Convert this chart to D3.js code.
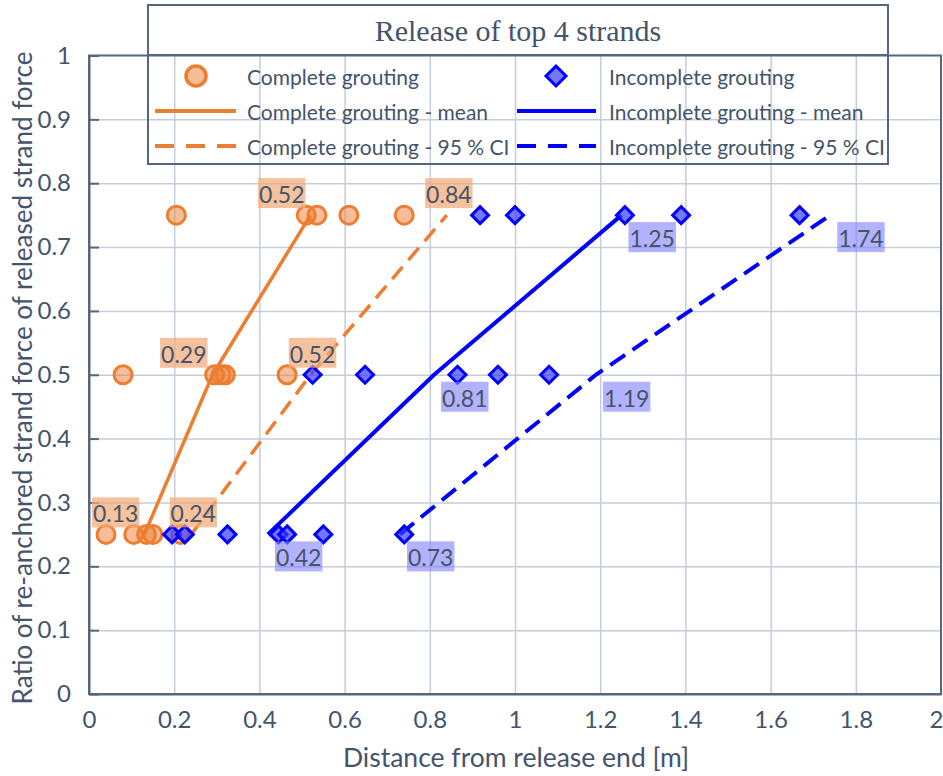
<!DOCTYPE html>
<html>
<head>
<meta charset="utf-8">
<script src="https://cdn.jsdelivr.net/npm/d3@7"></script>
<style>
  html, body { margin: 0; padding: 0; background: #ffffff; }
  svg { display: block; }
</style>
</head>
<body>
<svg id="chart" width="943" height="776"></svg>
<script>
// Axis ticks
const xTickValues = [0, 0.2, 0.4, 0.6, 0.8, 1, 1.2, 1.4, 1.6, 1.8, 2];
const xTickLabels = ["0", "0.2", "0.4", "0.6", "0.8", "1", "1.2", "1.4", "1.6", "1.8", "2"];
const yTickValues = [0, 0.1, 0.2, 0.3, 0.4, 0.5, 0.6, 0.7, 0.8, 0.9, 1];
const yTickLabels = ["0", "0.1", "0.2", "0.3", "0.4", "0.5", "0.6", "0.7", "0.8", "0.9", "1"];

// Measured points: complete grouting
const completeX = [0.04, 0.105, 0.135, 0.15, 0.215, 0.08, 0.295, 0.31, 0.32, 0.465, 0.205, 0.51, 0.535, 0.61, 0.74];
const completeY = [0.25, 0.25, 0.25, 0.25, 0.25, 0.5, 0.5, 0.5, 0.5, 0.5, 0.75, 0.75, 0.75, 0.75, 0.75];

// Measured points: incomplete grouting
const incompleteX = [0.195, 0.225, 0.325, 0.445, 0.465, 0.55, 0.74, 0.525, 0.648, 0.865, 0.96, 1.08, 0.918, 1.0, 1.258, 1.39, 1.668];
const incompleteY = [0.25, 0.25, 0.25, 0.25, 0.25, 0.25, 0.25, 0.5, 0.5, 0.5, 0.5, 0.5, 0.75, 0.75, 0.75, 0.75, 0.75];

// Fitted curves (force levels and distances)
const curveLevels = [0.25, 0.5, 0.75];
const completeMean = [0.13, 0.29, 0.52];
const completeCI = [0.24, 0.52, 0.84];
const incompleteMean = [0.42, 0.81, 1.25];
const incompleteCI = [0.73, 1.19, 1.74];

const legendLabels = [
  "Complete grouting", "Incomplete grouting",
  "Complete grouting - mean", "Incomplete grouting - mean",
  "Complete grouting - 95 % CI", "Incomplete grouting - 95 % CI"
];
const titleText = "Release of top 4 strands";
const xTitle = "Distance from release end [m]";
const yTitle = "Ratio of re-anchored strand force of released strand force";

// Styling
const ORANGE = "#ED7D31";
const BLUE = "#0000FF";
const TEXT = "#44546A";
const AXIS = "#56667F";
const GRID = "#C5CDDA";
const SANS = "Lato, 'Open Sans', sans-serif";
const SERIF = "'Liberation Serif', 'DejaVu Serif', serif";

const svg = d3.select("#chart");
const plot = { left: 89, right: 941, top: 55.5, bottom: 694 };

const x = d3.scaleLinear().domain([0, 2]).range([plot.left, plot.right]);
const y = d3.scaleLinear().domain([0, 1]).range([plot.bottom, plot.top]);

// Gridlines
svg.append("g")
  .attr("transform", `translate(0,${plot.bottom})`)
  .call(d3.axisBottom(x).tickValues(xTickValues.slice(1, -1)).tickSize(-(plot.bottom - plot.top)).tickFormat(""))
  .call(g => g.select(".domain").remove())
  .call(g => g.selectAll("line").attr("stroke", GRID).attr("stroke-width", 1.5));
svg.append("g")
  .attr("transform", `translate(${plot.left},0)`)
  .call(d3.axisLeft(y).tickValues(yTickValues.slice(1, -1)).tickSize(-(plot.right - plot.left)).tickFormat(""))
  .call(g => g.select(".domain").remove())
  .call(g => g.selectAll("line").attr("stroke", GRID).attr("stroke-width", 1.5));

// Plot frame
svg.append("rect")
  .attr("x", plot.left).attr("y", plot.top)
  .attr("width", plot.right - plot.left).attr("height", plot.bottom - plot.top)
  .attr("fill", "none").attr("stroke", AXIS).attr("stroke-width", 2);

// Y axis with inward ticks
svg.append("g")
  .attr("transform", `translate(${plot.left},0)`)
  .call(d3.axisLeft(y).tickValues(yTickValues).tickSizeInner(-10).tickSizeOuter(0).tickPadding(18)
    .tickFormat((d, i) => yTickLabels[i]))
  .call(g => g.select(".domain").attr("stroke", AXIS).attr("stroke-width", 2))
  .call(g => g.selectAll("line").attr("stroke", AXIS).attr("stroke-width", 2))
  .call(g => g.selectAll("text").attr("fill", TEXT).attr("font-family", SANS).attr("font-size", 24));

// X axis; the last label is kept inside the canvas edge
svg.append("g")
  .attr("transform", `translate(0,${plot.bottom})`)
  .call(d3.axisBottom(x).tickValues(xTickValues).tickSize(0).tickPadding(17)
    .tickFormat((d, i) => xTickLabels[i]))
  .call(g => g.select(".domain").attr("stroke", AXIS).attr("stroke-width", 2))
  .call(g => g.selectAll("text").attr("fill", TEXT).attr("font-family", SANS).attr("font-size", 24))
  .call(g => g.selectAll(".tick").filter(d => d === 2).select("text")
    .attr("text-anchor", "end").attr("dx", 2));

// Axis titles
svg.append("text")
  .attr("x", 516).attr("y", 767)
  .attr("text-anchor", "middle")
  .attr("fill", TEXT).attr("font-family", SANS).attr("font-size", 26.5)
  .text(xTitle);
svg.append("text")
  .attr("transform", `translate(22,${378}) rotate(-90)`)
  .attr("text-anchor", "middle").attr("dominant-baseline", "central")
  .attr("fill", TEXT).attr("font-family", SANS).attr("font-size", 26)
  .text(yTitle);

// Curves
const line = d3.line().x(d => x(d[0])).y(d => y(d[1]));
function drawCurve(xs, color, width, dash) {
  svg.append("path")
    .datum(xs.map((v, i) => [v, curveLevels[i]]))
    .attr("d", line)
    .attr("fill", "none")
    .attr("stroke", color)
    .attr("stroke-width", width)
    .attr("stroke-dasharray", dash)
    .attr("stroke-linejoin", "round");
}
drawCurve(completeMean, ORANGE, 3.5, null);
drawCurve(completeCI, ORANGE, 3.5, "16,9");
drawCurve(incompleteMean, BLUE, 4, null);
drawCurve(incompleteCI, BLUE, 4, "18,9");

// Markers
const diamond = s => `M0,${-s}L${s},0L0,${s}L${-s},0Z`;
svg.append("g").selectAll("circle")
  .data(completeX.map((v, i) => [v, completeY[i]]))
  .join("circle")
  .attr("cx", d => x(d[0])).attr("cy", d => y(d[1]))
  .attr("r", 9)
  .attr("fill", "rgba(237,125,49,0.5)")
  .attr("stroke", ORANGE).attr("stroke-width", 3);
svg.append("g").selectAll("path")
  .data(incompleteX.map((v, i) => [v, incompleteY[i]]))
  .join("path")
  .attr("transform", d => `translate(${x(d[0])},${y(d[1])})`)
  .attr("d", diamond(8.5))
  .attr("fill", "rgba(60,60,255,0.7)")
  .attr("stroke", BLUE).attr("stroke-width", 3).attr("stroke-linejoin", "miter");

// Value labels with shaded boxes
function valueLabel(xv, yv, fill, place) {
  const g = svg.append("g");
  const t = g.append("text")
    .attr("fill", TEXT).attr("font-family", SANS).attr("font-size", 23)
    .attr("dominant-baseline", "central")
    .text(d3.format(".2f")(xv));
  const bb = t.node().getBBox();
  const bw = bb.width + 2, bh = 30;
  const px = x(xv), py = y(yv);
  let bx, by;
  if (place === "leftAbove") { bx = px - 5 - bw; by = py - 37; }
  else if (place === "above") { bx = px - bw / 2 + 2; by = py - 37; }
  else { bx = px + 7; by = py + 7; }
  t.attr("x", bx + 1).attr("y", by + bh / 2 + 1);
  g.insert("rect", "text")
    .attr("x", bx).attr("y", by).attr("width", bw).attr("height", bh)
    .attr("fill", fill);
}
const ORANGE_BOX = "rgba(242,170,120,0.72)";
const BLUE_BOX = "rgba(130,130,255,0.62)";
completeMean.forEach((v, i) => valueLabel(v, curveLevels[i], ORANGE_BOX, "leftAbove"));
completeCI.forEach((v, i) => valueLabel(v, curveLevels[i], ORANGE_BOX, "above"));
incompleteMean.forEach((v, i) => valueLabel(v, curveLevels[i], BLUE_BOX, "rightBelow"));
incompleteCI.forEach((v, i) => valueLabel(v, curveLevels[i], BLUE_BOX, "rightBelow"));

// Title box
svg.append("rect")
  .attr("x", 148).attr("y", 5).attr("width", 740).attr("height", 50)
  .attr("fill", "#ffffff").attr("stroke", AXIS).attr("stroke-width", 2);
svg.append("text")
  .attr("x", 518).attr("y", 41)
  .attr("text-anchor", "middle")
  .attr("fill", TEXT).attr("font-family", SERIF).attr("font-size", 30)
  .text(titleText);

// Legend box (transparent, grid shows through)
const legend = svg.append("g");
legend.append("rect")
  .attr("x", 148).attr("y", 55).attr("width", 740).attr("height", 109)
  .attr("fill", "none").attr("stroke", AXIS).attr("stroke-width", 2);
const rowsY = [76, 111, 146];
const colSym = [196, 556];
const colLine = [[155, 236], [517, 596]];
const colText = [247, 609];
const colColor = [ORANGE, BLUE];
[0, 1].forEach(c => {
  if (c === 0) {
    legend.append("circle").attr("cx", colSym[c]).attr("cy", rowsY[0]).attr("r", 10)
      .attr("fill", "rgba(237,125,49,0.5)").attr("stroke", ORANGE).attr("stroke-width", 3.5);
  } else {
    legend.append("path").attr("transform", `translate(${colSym[c]},${rowsY[0]})`)
      .attr("d", diamond(10))
      .attr("fill", "rgba(60,60,255,0.7)").attr("stroke", BLUE).attr("stroke-width", 3);
  }
  legend.append("line")
    .attr("x1", colLine[c][0]).attr("x2", colLine[c][1]).attr("y1", rowsY[1]).attr("y2", rowsY[1])
    .attr("stroke", colColor[c]).attr("stroke-width", 4);
  legend.append("line")
    .attr("x1", colLine[c][0]).attr("x2", colLine[c][1]).attr("y1", rowsY[2]).attr("y2", rowsY[2])
    .attr("stroke", colColor[c]).attr("stroke-width", 4).attr("stroke-dasharray", "19,12");
  [0, 1, 2].forEach(r => {
    legend.append("text")
      .attr("x", colText[c]).attr("y", rowsY[r])
      .attr("dominant-baseline", "central")
      .attr("fill", TEXT).attr("font-family", SANS).attr("font-size", 21)
      .text(legendLabels[r * 2 + c]);
  });
});
</script>
</body>
</html>
